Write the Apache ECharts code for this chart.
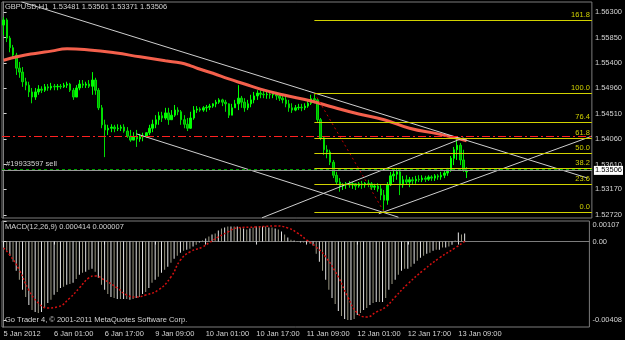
<!DOCTYPE html>
<html><head><meta charset="utf-8">
<script src="https://cdn.jsdelivr.net/npm/echarts@6/dist/echarts.min.js"></script>
<style>html,body{margin:0;padding:0;background:#000}#c{width:625px;height:340px}</style>
</head><body><div id="c"></div>
<script>
// ---- data ----
const titleText = 'GBPUSD,H1  1.53481 1.53561 1.53371 1.53506';
const macdTitle = 'MACD(12,26,9) 0.000414 0.000007';
const copyright = 'Go Trader 4, \u00a9 2001-2011 MetaQuotes Software Corp.';
const orderText = '#19933597 sell';

const tickLabels = ['5 Jan 2012','6 Jan 01:00','6 Jan 17:00','9 Jan 09:00','10 Jan 01:00','10 Jan 17:00','11 Jan 09:00','12 Jan 01:00','12 Jan 17:00','13 Jan 09:00'];
const priceTicks = [1.52720,1.53170,1.53610,1.54060,1.54510,1.54960,1.55400,1.55850,1.56300];
const macdTicks = [0.00107, 0, -0.00408];

// [open, close, low, high] per hourly bar
const candles = [
[1.5607,1.5616,1.5589,1.5621],[1.5616,1.5584,1.5577,1.5619],[1.5584,1.5567,1.5559,1.5588],[1.5567,1.5554,1.5549,1.5572],
[1.5554,1.5531,1.5519,1.5558],[1.5531,1.5524,1.5514,1.5542],[1.5524,1.5507,1.5498,1.5533],[1.5507,1.5501,1.5492,1.5514],
[1.5501,1.5489,1.5480,1.5507],[1.5489,1.5480,1.5469,1.5496],[1.5480,1.5489,1.5475,1.5496],[1.5489,1.5494,1.5484,1.5501],
[1.5494,1.5492,1.5487,1.5499],[1.5492,1.5498,1.5489,1.5503],[1.5498,1.5496,1.5491,1.5503],[1.5496,1.5499,1.5492,1.5505],
[1.5499,1.5498,1.5492,1.5503],[1.5498,1.5499,1.5492,1.5503],[1.5499,1.5498,1.5494,1.5503],[1.5498,1.5501,1.5496,1.5505],
[1.5501,1.5503,1.5496,1.5507],[1.5503,1.5492,1.5489,1.5505],[1.5492,1.5480,1.5475,1.5496],[1.5480,1.5496,1.5480,1.5501],
[1.5496,1.5503,1.5492,1.5510],[1.5503,1.5501,1.5496,1.5510],[1.5501,1.5503,1.5496,1.5507],[1.5503,1.5499,1.5496,1.5510],
[1.5499,1.5510,1.5484,1.5524],[1.5510,1.5492,1.5484,1.5514],[1.5492,1.5461,1.5457,1.5496],[1.5461,1.5431,1.5425,1.5466],
[1.5431,1.5422,1.5374,1.5440],[1.5422,1.5425,1.5413,1.5431],[1.5425,1.5427,1.5418,1.5432],[1.5427,1.5424,1.5418,1.5431],
[1.5424,1.5425,1.5420,1.5432],[1.5425,1.5427,1.5420,1.5431],[1.5427,1.5420,1.5417,1.5432],[1.5420,1.5411,1.5408,1.5427],
[1.5411,1.5404,1.5401,1.5422],[1.5404,1.5410,1.5404,1.5418],[1.5410,1.5406,1.5392,1.5422],[1.5406,1.5410,1.5401,1.5415],
[1.5410,1.5411,1.5402,1.5417],[1.5411,1.5417,1.5408,1.5418],[1.5417,1.5425,1.5413,1.5431],[1.5425,1.5432,1.5418,1.5440],
[1.5432,1.5440,1.5425,1.5448],[1.5440,1.5447,1.5431,1.5454],[1.5447,1.5443,1.5436,1.5454],[1.5443,1.5452,1.5440,1.5461],
[1.5452,1.5440,1.5431,1.5461],[1.5440,1.5448,1.5440,1.5457],[1.5448,1.5457,1.5445,1.5466],[1.5457,1.5454,1.5448,1.5462],
[1.5454,1.5440,1.5431,1.5457],[1.5440,1.5432,1.5425,1.5448],[1.5432,1.5425,1.5420,1.5443],[1.5425,1.5443,1.5424,1.5454],
[1.5443,1.5457,1.5440,1.5464],[1.5457,1.5459,1.5452,1.5464],[1.5459,1.5457,1.5454,1.5462],[1.5457,1.5461,1.5454,1.5464],
[1.5461,1.5462,1.5454,1.5466],[1.5462,1.5464,1.5457,1.5468],[1.5464,1.5468,1.5461,1.5469],[1.5468,1.5471,1.5462,1.5475],
[1.5471,1.5475,1.5468,1.5478],[1.5475,1.5471,1.5464,1.5477],[1.5471,1.5468,1.5454,1.5475],[1.5468,1.5448,1.5443,1.5469],
[1.5448,1.5461,1.5448,1.5468],[1.5461,1.5468,1.5461,1.5475],[1.5468,1.5478,1.5457,1.5501],[1.5478,1.5471,1.5461,1.5482],
[1.5471,1.5461,1.5454,1.5478],[1.5461,1.5468,1.5457,1.5475],[1.5468,1.5475,1.5462,1.5484],[1.5475,1.5482,1.5469,1.5489],
[1.5482,1.5487,1.5475,1.5492],[1.5487,1.5485,1.5478,1.5492],[1.5485,1.5484,1.5478,1.5491],[1.5484,1.5485,1.5477,1.5489],
[1.5485,1.5484,1.5477,1.5491],[1.5484,1.5485,1.5478,1.5489],[1.5485,1.5482,1.5475,1.5489],[1.5482,1.5478,1.5473,1.5487],
[1.5478,1.5475,1.5469,1.5484],[1.5475,1.5468,1.5462,1.5482],[1.5468,1.5461,1.5454,1.5475],[1.5461,1.5457,1.5452,1.5469],
[1.5457,1.5461,1.5455,1.5466],[1.5461,1.5462,1.5457,1.5468],[1.5462,1.5461,1.5455,1.5468],[1.5461,1.5464,1.5457,1.5469],
[1.5464,1.5469,1.5461,1.5475],[1.5469,1.5477,1.5466,1.5484],[1.5477,1.5475,1.5469,1.5487],[1.5475,1.5440,1.5436,1.5478],
[1.5440,1.5408,1.5404,1.5443],[1.5408,1.5387,1.5378,1.5411],[1.5387,1.5383,1.5372,1.5395],[1.5383,1.5365,1.5360,1.5387],
[1.5365,1.5342,1.5337,1.5369],[1.5342,1.5330,1.5325,1.5348],[1.5330,1.5323,1.5313,1.5337],[1.5323,1.5325,1.5316,1.5328],
[1.5325,1.5327,1.5318,1.5330],[1.5327,1.5325,1.5320,1.5332],[1.5325,1.5327,1.5318,1.5330],[1.5327,1.5323,1.5316,1.5328],
[1.5323,1.5327,1.5320,1.5330],[1.5327,1.5325,1.5318,1.5332],[1.5325,1.5328,1.5320,1.5330],[1.5328,1.5327,1.5321,1.5334],
[1.5327,1.5321,1.5316,1.5330],[1.5321,1.5323,1.5316,1.5327],[1.5323,1.5318,1.5313,1.5328],[1.5318,1.5307,1.5298,1.5325],
[1.5307,1.5298,1.5277,1.5316],[1.5298,1.5325,1.5290,1.5330],[1.5325,1.5341,1.5323,1.5348],[1.5341,1.5344,1.5330,1.5351],
[1.5344,1.5348,1.5334,1.5355],[1.5348,1.5325,1.5307,1.5351],[1.5325,1.5334,1.5320,1.5341],[1.5334,1.5330,1.5325,1.5342],
[1.5330,1.5334,1.5321,1.5339],[1.5334,1.5332,1.5325,1.5339],[1.5332,1.5335,1.5327,1.5341],[1.5335,1.5334,1.5330,1.5342],
[1.5334,1.5337,1.5330,1.5342],[1.5337,1.5335,1.5330,1.5341],[1.5335,1.5339,1.5332,1.5342],[1.5339,1.5337,1.5332,1.5342],
[1.5337,1.5341,1.5332,1.5344],[1.5341,1.5339,1.5334,1.5344],[1.5339,1.5342,1.5334,1.5348],[1.5342,1.5346,1.5337,1.5351],
[1.5346,1.5351,1.5341,1.5355],[1.5351,1.5372,1.5348,1.5376],[1.5372,1.5387,1.5360,1.5392],[1.5387,1.5395,1.5369,1.5408],
[1.5395,1.5369,1.5360,1.5399],[1.5369,1.5351,1.5348,1.5387],[1.53481,1.53506,1.53371,1.53561]
];

// moving average (red), [bar, price]
const maLine = [[0,1.5545],[5,1.5552],[10,1.5557],[15,1.5561],[20,1.5565],[27,1.5563],[35,1.5558],[43,1.5551],
[51,1.5544],[56,1.5540],[59,1.5535],[62,1.5529],[66,1.5522],[71,1.5512],[76,1.5503],[81,1.5494],[88,1.5484],
[97,1.5473],[104,1.5462],[112,1.5450],[120,1.5440],[128,1.5425],[137,1.5415],[146,1.5403]];

// MACD histogram per bar
const macdHist = [
-0.00031,-0.00047,-0.00073,-0.00105,-0.00152,-0.00199,-0.00251,-0.00288,-0.00330,-0.00356,
-0.00366,-0.00371,-0.00366,-0.00345,-0.00319,-0.00303,-0.00277,-0.00262,-0.00241,-0.00235,
-0.00225,-0.00220,-0.00214,-0.00194,-0.00173,-0.00162,-0.00157,-0.00146,-0.00141,-0.00157,
-0.00188,-0.00225,-0.00251,-0.00272,-0.00288,-0.00293,-0.00298,-0.00298,-0.00298,-0.00298,
-0.00303,-0.00298,-0.00293,-0.00288,-0.00272,-0.00262,-0.00241,-0.00214,-0.00199,-0.00183,
-0.00162,-0.00146,-0.00131,-0.00110,-0.00089,-0.00073,-0.00058,-0.00047,-0.00042,-0.00037,
-0.00026,-0.00016,-0.00005,0.00005,0.00016,0.00026,0.00037,0.00042,0.00058,0.00068,
0.00073,0.00078,0.00078,0.00078,0.00078,0.00073,0.00068,0.00063,0.00068,0.00073,
0.00078,0.00078,0.00078,0.00078,0.00073,0.00073,0.00068,0.00063,0.00052,0.00037,
0.00021,0.00010,0.00005,0.00003,-0.00005,-0.00005,-0.00005,-0.00010,-0.00021,-0.00063,
-0.00105,-0.00152,-0.00199,-0.00251,-0.00293,-0.00324,-0.00361,-0.00387,-0.00403,-0.00408,
-0.00408,-0.00403,-0.00382,-0.00371,-0.00356,-0.00345,-0.00330,-0.00319,-0.00314,-0.00314,
-0.00314,-0.00293,-0.00251,-0.00220,-0.00199,-0.00173,-0.00152,-0.00141,-0.00141,-0.00131,
-0.00115,-0.00099,-0.00084,-0.00073,-0.00063,-0.00058,-0.00047,-0.00042,-0.00042,-0.00031,
-0.00031,-0.00026,-0.00016,0.00005,0.00047,0.00037,0.000414
];

// MACD signal line, [bar, value]
const macdSignal = [[0,-0.00033],[2,-0.00070],[5,-0.00148],[8,-0.00252],[11,-0.00319],[14,-0.00345],[17,-0.00340],
[21,-0.00293],[24,-0.00241],[27,-0.00189],[29,-0.00179],[32,-0.00200],[36,-0.00241],[39,-0.00278],[42,-0.00288],
[45,-0.00278],[49,-0.00252],[53,-0.00184],[56,-0.00096],[59,-0.00054],[63,-0.00028],[65,-0.00007],[68,0.00024],
[71,0.00050],[74,0.00071],[80,0.00076],[86,0.00081],[90,0.00071],[93,0.00045],[96,0.00008],[99,-0.00028],
[102,-0.00080],[106,-0.00184],[109,-0.00288],[112,-0.00371],[115,-0.00392],[118,-0.00366],[121,-0.00340],
[124,-0.00288],[128,-0.00220],[133,-0.00148],[138,-0.00085],[143,-0.00033],[146,0.000007]];

const fibLevels = [['161.8',1.5616],['100.0',1.5487],['76.4',1.5436],['61.8',1.5408],['50.0',1.5381],['38.2',1.5355],['23.6',1.5327],['0.0',1.5277]];
const fibStartBar = 98;
const fibTrend = [[98,1.5487],[120,1.5277]];
const trendLines = [
  [[5.6,1.5648],[184.2,1.5337]],
  [[41.9,1.5415],[124.5,1.5268]],
  [[81.5,1.5267],[145,1.5408]],
  [[118.3,1.5274],[185.5,1.5411]]
];
const stopLevel = 1.5411;
const orderLevel = 1.5352;
const bidPrice = 1.53506;

// ---- layout / style ----
const nBars = 186;
const xMin = -0.5, xMax = nBars - 0.5;
const cats = Array.from({length: nBars}, (_, i) => String(i));
const FONT = '"Liberation Sans", Arial, sans-serif';
const txt = '#d4d4d4';
const frame = '#7c7c7c';
const fibColor = '#d2d200';
const fs = 7.5;
const tickEvery = 16;
const showTick = (i) => i % tickEvery === 0 && i / tickEvery < tickLabels.length;

const chart = echarts.init(document.getElementById('c'), null, {renderer: 'canvas'});
const titleStyle = {color: txt, fontSize: fs, fontWeight: 'normal', fontFamily: FONT};

const series = [
  {
    type: 'candlestick', xAxisIndex: 0, yAxisIndex: 0, data: candles, barWidth: 2,
    itemStyle: {color: '#00ff00', color0: '#00a800', borderColor: '#00ff00', borderColor0: '#00dd00', borderWidth: 1}
  },
  {
    type: 'line', xAxisIndex: 1, yAxisIndex: 0, data: maLine, smooth: true, symbol: 'none',
    lineStyle: {color: '#f4604c', width: 3},
    markLine: {
      symbol: 'none', silent: true, animation: false,
      data: [
        [{coord: [xMin, stopLevel], lineStyle: {color: '#ff2020', type: [8,3,2,3], width: 1}, label: {show: false}}, {coord: [xMax, stopLevel]}],
        [{coord: [xMin, bidPrice], lineStyle: {color: '#9a9a9a', type: 'solid', width: 1},
          label: {show: true, position: 'end', formatter: bidPrice.toFixed(5), backgroundColor: '#ffffff', color: '#000', padding: [1,1,0,1], fontSize: fs, fontFamily: FONT, distance: 2}},
         {coord: [xMax, bidPrice]}],
        [{coord: [xMin, orderLevel], lineStyle: {color: '#00a000', type: [3,3], width: 1},
          label: {show: true, position: 'insideStartTop', formatter: orderText, color: txt, fontSize: fs, fontFamily: FONT, distance: [4, 2]}},
         {coord: [xMax, orderLevel]}]
      ]
    }
  }
];
trendLines.forEach(tl => series.push({
  type: 'line', xAxisIndex: 1, yAxisIndex: 0, data: tl, symbol: 'none', silent: true,
  lineStyle: {color: '#cfcfcf', width: 1}
}));
series.push({
  type: 'line', xAxisIndex: 1, yAxisIndex: 0, data: fibTrend, symbol: 'none',
  lineStyle: {color: '#c40000', width: 1, type: [2,3]},
  markLine: {
    symbol: 'none', silent: true, animation: false,
    lineStyle: {color: fibColor, type: 'solid', width: 1},
    label: {show: true, position: 'insideEndTop', formatter: '{b}', color: fibColor, fontSize: fs, fontFamily: FONT, distance: [2, 1]},
    data: fibLevels.map(([name, p]) => [{name: name, coord: [fibStartBar, p]}, {coord: [xMax, p]}])
  }
});
series.push({
  type: 'bar', xAxisIndex: 2, yAxisIndex: 1, data: macdHist, barWidth: 1,
  itemStyle: {color: (p) => (p.dataIndex % 2 === 0 ? '#e6e6e6' : '#9c9a86')}
});
series.push({
  type: 'line', xAxisIndex: 3, yAxisIndex: 1, data: macdSignal, smooth: true, symbol: 'none',
  lineStyle: {color: '#d41010', width: 1.5, type: [2,2]}
});

chart.setOption({
  backgroundColor: '#000',
  animation: false,
  textStyle: {fontFamily: FONT},
  title: [
    {text: titleText, left: 5, top: 3, padding: 0, textStyle: titleStyle},
    {text: macdTitle, left: 5, top: 223, padding: 0, textStyle: titleStyle},
    {text: copyright, left: 5, top: 316, padding: 0, textStyle: titleStyle}
  ],
  grid: [
    {left: 2, top: 2, width: 592, height: 216, show: true, borderColor: frame, borderWidth: 1, backgroundColor: 'transparent'},
    {left: 2, top: 221, width: 592, height: 106, show: true, borderColor: frame, borderWidth: 1, backgroundColor: 'transparent'}
  ],
  xAxis: [
    {type: 'category', gridIndex: 0, data: cats, boundaryGap: true, axisLine: {show: false}, axisTick: {show: false}, axisLabel: {show: false}, splitLine: {show: false}},
    {type: 'value', gridIndex: 0, min: xMin, max: xMax, show: false},
    {type: 'category', gridIndex: 1, data: cats, boundaryGap: true,
     axisLine: {show: true, lineStyle: {color: frame}},
     axisTick: {show: true, alignWithLabel: true, length: 3, interval: showTick, lineStyle: {color: txt}},
     axisLabel: {show: true, interval: showTick, formatter: (v, i) => tickLabels[Math.round(i / tickEvery)] || '', color: txt, fontSize: fs, fontFamily: FONT, align: 'left', margin: 3},
     splitLine: {show: false}},
    {type: 'value', gridIndex: 1, min: xMin, max: xMax, show: false}
  ],
  yAxis: [
    {type: 'value', gridIndex: 0, position: 'right', min: 1.52666, max: 1.56477, scale: true,
     splitLine: {show: false},
     axisLine: {show: true, lineStyle: {color: frame}},
     axisTick: {show: true, length: 3, customValues: priceTicks, lineStyle: {color: txt}},
     axisLabel: {show: true, customValues: priceTicks, formatter: v => v.toFixed(5), color: txt, fontSize: fs, fontFamily: FONT, margin: 3}},
    {type: 'value', gridIndex: 1, position: 'right', min: -0.00444, max: 0.00107,
     splitLine: {show: false},
     axisLine: {show: true, lineStyle: {color: frame}},
     axisTick: {show: true, length: 3, customValues: macdTicks, lineStyle: {color: txt}},
     axisLabel: {show: true, customValues: macdTicks,
       formatter: v => v === 0 ? '0.00' : (v > 0 ? '{t|' + v.toFixed(5) + '}' : v.toFixed(5)),
       rich: {t: {color: txt, fontSize: fs, fontFamily: FONT, padding: [8, 0, 0, 0]}},
       color: txt, fontSize: fs, fontFamily: FONT, margin: 3}}
  ],
  series: series
});
</script>
</body></html>
